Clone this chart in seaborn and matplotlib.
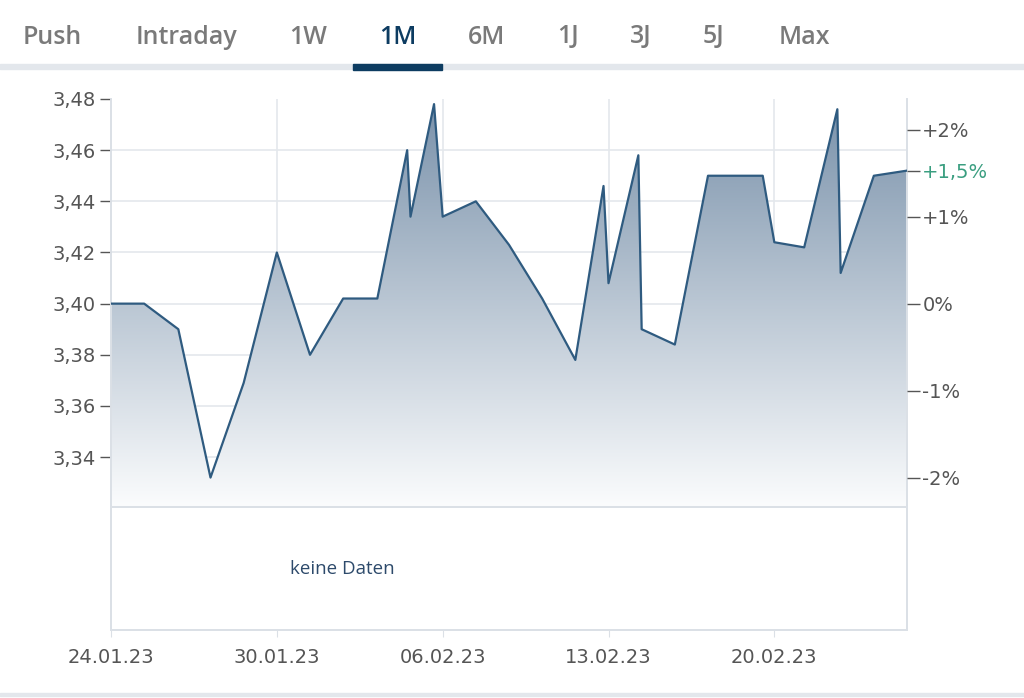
import numpy as np
import matplotlib
matplotlib.use("Agg")
import matplotlib.pyplot as plt
import seaborn as sns
from matplotlib.colors import LinearSegmentedColormap
from matplotlib.patches import Rectangle

# price series, x = trading-day position (0 = 24.01.23)
day_pos = [0.0, 1.0, 2.03, 3.0, 4.0, 5.0, 6.0, 7.0, 8.03, 8.93, 9.03, 9.74, 10.0,
           11.0, 12.0, 13.0, 14.0, 14.85, 15.0, 15.9, 16.0, 17.0, 18.0, 19.65,
           20.0, 20.9, 21.9, 22.0, 23.0, 24.0]
price = [3.400, 3.400, 3.390, 3.332, 3.369, 3.420, 3.380, 3.402, 3.402, 3.460,
         3.434, 3.478, 3.434, 3.440, 3.423, 3.402, 3.378, 3.446, 3.408, 3.458,
         3.390, 3.384, 3.450, 3.450, 3.424, 3.422, 3.476, 3.412, 3.450, 3.452]

date_ticks = [0, 5, 10, 15, 20]
date_labels = ["24.01.23", "30.01.23", "06.02.23", "13.02.23", "20.02.23"]
price_ticks = [3.34, 3.36, 3.38, 3.40, 3.42, 3.44, 3.46, 3.48]
pct_ticks = [-2, -1, 0, 1, 2]
pct_labels = ["-2%", "-1%", "0%", "+1%", "+2%"]
last_pct_label = "+1,5%"
ref_price = 3.40
tabs = ["Push", "Intraday", "1W", "1M", "6M", "1J", "3J", "5J", "Max"]
active_tab = "1M"

sns.set_style("white")
plt.rcParams["font.family"] = ["DejaVu Sans"]

W, H = 1024, 698
fig = plt.figure(figsize=(W / 100, H / 100), dpi=100)


def fx(px):
    return px / W


def fy(py):
    return 1 - py / H


grid_c = "#e4e8ec"
txt_c = "#555555"
line_c = "#2f5b80"

ax = fig.add_axes([fx(111), fy(507), fx(796), (507 - 99) / H])
ax2 = fig.add_axes([fx(111), fy(630), fx(796), (630 - 507) / H], sharex=ax)

x0, x1 = 0, 24
y0, y1 = 3.3205, 3.48

# gradient area under the line
cmap = LinearSegmentedColormap.from_list("fade", ["#fbfcfd", "#7991aa"])
poly = ax.fill_between(day_pos, price, y0, color="none", lw=0)
im = ax.imshow(np.linspace(0, 1, 256).reshape(-1, 1), extent=[x0, x1, y0, y1],
               origin="lower", aspect="auto", cmap=cmap, zorder=1)
im.set_clip_path(poly.get_paths()[0], transform=ax.transData)

sns.lineplot(x=day_pos, y=price, ax=ax, color=line_c, linewidth=1.6, zorder=3)

ax.set_xlim(x0, x1)
ax.set_ylim(y0, y1)
ax.set_yticks(price_ticks)
ax.set_yticklabels([f"{v:.2f}".replace(".", ",") for v in price_ticks])
ax.set_xticks(date_ticks)
ax.tick_params(axis="x", bottom=False, labelbottom=False)
ax.tick_params(axis="y", left=True, length=8, width=1, color=txt_c,
               labelsize=14, labelcolor=txt_c, pad=3)
ax.grid(True, color=grid_c, lw=1.2, zorder=0)
ax.set_axisbelow(True)
ax.yaxis.get_gridlines()[-1].set_visible(False)
ax.xaxis.get_gridlines()[0].set_visible(False)
for side in ["left", "right", "bottom"]:
    ax.spines[side].set_color("#dbe0e6")
    ax.spines[side].set_linewidth(1.4)
ax.spines["top"].set_visible(False)

# percent axis on the right
axr = ax.twinx()
axr.set_ylim(y0, y1)
tick_vals = [ref_price * (1 + p / 100) for p in pct_ticks] + [price[-1]]
axr.set_yticks(tick_vals)
axr.set_yticklabels(pct_labels + [last_pct_label])
axr.tick_params(axis="y", right=True, length=9, width=1, color=txt_c,
                labelsize=14, labelcolor=txt_c, pad=2)
axr.get_yticklabels()[-1].set_color("#3a9e80")
for s in axr.spines.values():
    s.set_visible(False)

# empty lower panel
ax2.set_ylim(0, 1)
ax2.set_yticks([])
ax2.set_xticks(date_ticks)
ax2.set_xticklabels(date_labels)
ax2.tick_params(axis="x", bottom=True, length=5, color="#dbe0e6",
                labelsize=14, labelcolor=txt_c, pad=8)
for s in ax2.spines.values():
    s.set_color("#dbe0e6")
    s.set_linewidth(1.4)
ax2.text(0.291, 0.5, "keine Daten", transform=ax2.transAxes, ha="center",
         va="center", fontsize=13.5, color="#2d4a6b", family=["Open Sans", "DejaVu Sans"])

# tab bar
tab_cx = [52, 186, 308, 398, 487, 568, 641, 714, 804]
for name, cx in zip(tabs, tab_cx):
    on = name == active_tab
    fig.text(fx(cx), fy(37), name, ha="center", va="center", fontsize=18,
             fontweight="semibold", color="#0d3c61" if on else "#7a7a7a",
             family=["Open Sans", "DejaVu Sans"])
fig.patches.append(Rectangle((0, fy(69)), 1, 5 / H, transform=fig.transFigure,
                             color="#e3e7ec", zorder=0))
fig.patches.append(Rectangle((fx(353), fy(70)), fx(89), 6 / H,
                             transform=fig.transFigure, color="#0d3c61", zorder=1))
fig.patches.append(Rectangle((0, fy(696)), 1, 3 / H, transform=fig.transFigure,
                             color="#e3e7ec", zorder=0))

fig.savefig("out.png", dpi=100)
